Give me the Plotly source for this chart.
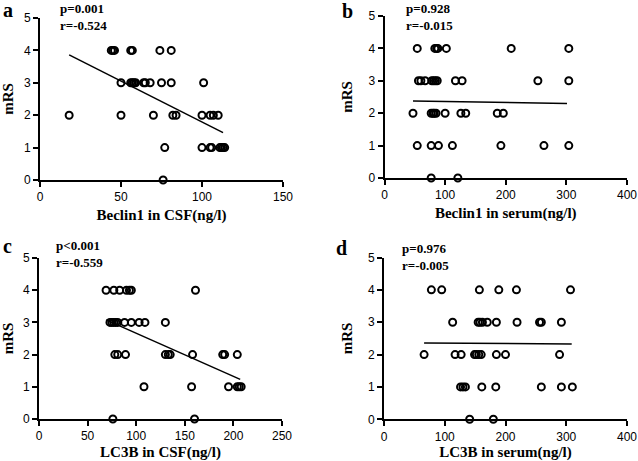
import plotly.graph_objects as go

W, H = 638, 461

# ---------------- data ----------------
# Panel a: Beclin1 in CSF vs mRS
a_x = [44, 45, 46, 56, 57, 74, 81,
       50, 56, 57, 58, 59, 64, 65, 68, 75, 81, 101,
       18, 50, 70, 82, 84, 100, 105, 107, 110,
       77, 100, 105, 106, 111, 112, 113, 114,
       76]
a_y = [4] * 7 + [3] * 11 + [2] * 9 + [1] * 8 + [0] * 1
a_fit_x = [18, 113]
a_fit_y = [3.86, 1.46]

# Panel b: Beclin1 in serum vs mRS
b_x = [54, 83, 86, 88, 102, 209, 304,
       56, 60, 67, 78, 81, 84, 87, 117, 128, 253, 304,
       47, 77, 80, 82, 85, 100, 126, 134, 186, 196,
       54, 77, 89, 112, 192, 263, 304,
       77, 121]
b_y = [4] * 7 + [3] * 11 + [2] * 10 + [1] * 7 + [0] * 2
b_fit_x = [47, 301]
b_fit_y = [2.38, 2.30]

# Panel c: LC3B in CSF vs mRS
c_x = [69, 77, 83, 90, 93, 95, 161,
       73, 75, 77, 79, 81, 88, 95, 103, 109, 130,
       78, 81, 89, 130, 133, 135, 158, 189, 191, 204,
       108, 157, 195, 204, 206, 208,
       76, 160]
c_y = [4] * 7 + [3] * 10 + [2] * 10 + [1] * 6 + [0] * 2
c_fit_x = [69, 207]
c_fit_y = [3.08, 1.23]

# Panel d: LC3B in serum vs mRS
d_x = [78, 95, 157, 189, 218, 307,
       113, 155, 158, 162, 170, 185, 219, 256, 259, 292,
       66, 117, 127, 149, 152, 156, 160, 185, 200, 289,
       126, 130, 134, 161, 184, 259, 292, 310,
       141, 180]
d_y = [4] * 6 + [3] * 10 + [2] * 10 + [1] * 8 + [0] * 2
d_fit_x = [66, 309]
d_fit_y = [2.36, 2.33]

panel_letters = ["a", "b", "c", "d"]
x_titles = ["Beclin1 in CSF(ng/l)", "Beclin1 in serum(ng/l)",
            "LC3B in CSF(ng/l)", "LC3B in serum(ng/l)"]
y_title = "mRS"
p_texts = ["p=0.001", "p=0.928", "p<0.001", "p=0.976"]
r_texts = ["r=-0.524", "r=-0.015", "r=-0.559", "r=-0.005"]
x_ranges = [[0, 150], [0, 400], [0, 250], [0, 400]]
x_dticks = [50, 100, 50, 100]
y_ticks = [0, 1, 2, 3, 4, 5]

# ---------------- layout helpers (pixel -> paper) ----------------
def px(x):
    return x / W

def py(y):
    return 1 - y / H

# plot-area boxes in pixels: (left, right, top, bottom)
boxes = [(40, 283, 18, 180), (384.5, 627, 16, 178),
         (39, 282, 258, 419), (384, 627, 257.5, 419.3)]
letter_pos = [(8, 10), (347, 11), (7.5, 246), (341, 248)]
stat_pos = [(59, 0), (405, 0.5), (55, 237), (401, 240)]

serif = "Times New Roman, Liberation Serif, serif"
sans = "Arial, Liberation Sans, sans-serif"

fig = go.Figure()
series = [(a_x, a_y, a_fit_x, a_fit_y), (b_x, b_y, b_fit_x, b_fit_y),
          (c_x, c_y, c_fit_x, c_fit_y), (d_x, d_y, d_fit_x, d_fit_y)]

for i, (sx, sy, fx, fy) in enumerate(series):
    n = "" if i == 0 else str(i + 1)
    fig.add_trace(go.Scatter(
        x=sx, y=sy, mode="markers", xaxis="x" + n, yaxis="y" + n,
        cliponaxis=False, showlegend=False,
        marker=dict(symbol="circle-open", size=7, color="black",
                    line=dict(width=2, color="black"))))
    fig.add_trace(go.Scatter(
        x=fx, y=fy, mode="lines", xaxis="x" + n, yaxis="y" + n,
        showlegend=False, line=dict(color="black", width=1.5)))

layout = dict(
    width=W, height=H, template="none",
    paper_bgcolor="white", plot_bgcolor="white",
    margin=dict(l=0, r=0, t=0, b=0),
    showlegend=False, annotations=[],
)

for i in range(4):
    n = "" if i == 0 else str(i + 1)
    l, r, t, b = boxes[i]
    layout["xaxis" + n] = dict(
        domain=[px(l), px(r)], anchor="y" + n, range=x_ranges[i],
        dtick=x_dticks[i], tick0=0, showgrid=False, zeroline=False,
        showline=True, linecolor="black", linewidth=2,
        ticks="outside", ticklen=5, tickwidth=2, tickcolor="black",
        tickfont=dict(family=sans, size=12, color="black"),
        ticklabeloverflow="allow",
        title=dict(text="<b>" + x_titles[i] + "</b>", standoff=6,
                   font=dict(family=serif, size=15, color="black")),
        automargin=False, fixedrange=True)
    layout["yaxis" + n] = dict(
        domain=[py(b), py(t)], anchor="x" + n, range=[0, 5],
        tickvals=y_ticks, showgrid=False, zeroline=False,
        showline=True, linecolor="black", linewidth=2,
        ticks="outside", ticklen=5, tickwidth=2, tickcolor="black",
        tickfont=dict(family=sans, size=12, color="black"),
        title=dict(text="<b>" + y_title + "</b>", standoff=12,
                   font=dict(family=serif, size=15, color="black")),
        automargin=False, fixedrange=True)
    lx, ly = letter_pos[i]
    layout["annotations"].append(dict(
        text="<b>" + panel_letters[i] + "</b>", x=px(lx), y=py(ly),
        xref="paper", yref="paper", xanchor="center", yanchor="middle",
        showarrow=False, font=dict(family=serif, size=20, color="black")))
    tx, ty = stat_pos[i]
    layout["annotations"].append(dict(
        text="<b>" + p_texts[i] + "<br>" + r_texts[i] + "</b>",
        x=px(tx), y=py(ty), align="left", borderpad=0,
        xref="paper", yref="paper", xanchor="left", yanchor="top",
        showarrow=False, font=dict(family=serif, size=13, color="black")))

fig.update_layout(**layout)
fig.write_html("out.html", config={"displayModeBar": False},
               post_script="document.body.style.margin='0';"
                           "document.body.style.overflow='hidden';")
